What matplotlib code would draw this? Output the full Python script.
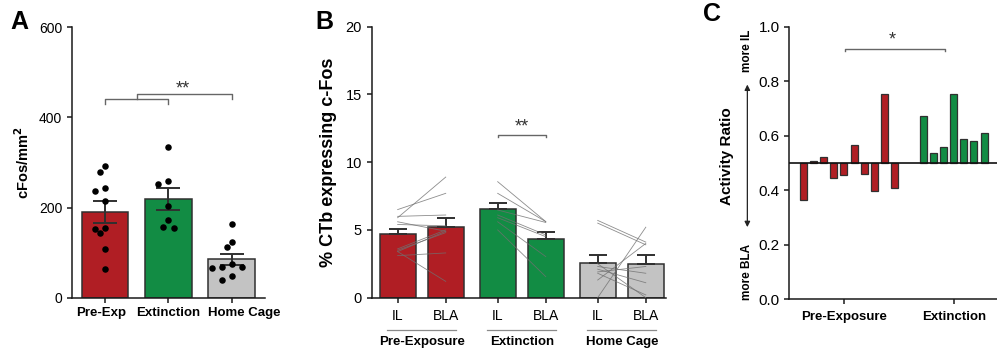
import numpy as np
import matplotlib.pyplot as plt

plt.rcParams['font.family'] = ['Liberation Sans', 'DejaVu Sans']

RED = '#b01e24'
GREEN = '#128c44'
GRAY = '#c3c3c3'
EDGE = '#303030'

# --- Panel A: cFos density ---
a_groups = ['Pre-Exp', 'Extinction', 'Home Cage']
a_means = [190, 219, 86]
a_sem = [24, 25, 12]
a_pre = [292, 280, 244, 237, 215, 155, 153, 143, 109, 64]
a_ext = [334, 259, 252, 204, 172, 157, 156]
a_home = [163, 125, 113, 76, 69, 69, 66, 48, 39]

# --- Panel B: % CTb expressing c-Fos ---
b_groups = ['Pre-Exposure', 'Extinction', 'Home Cage']
b_il_mean = [4.67, 6.52, 2.56]
b_bla_mean = [5.21, 4.30, 2.51]
b_il_sem = [0.42, 0.47, 0.61]
b_bla_sem = [0.64, 0.57, 0.64]
b_pre_il = [6.5, 5.9, 6.0, 5.4, 5.6, 3.6, 3.5, 3.4, 3.4, 3.1]
b_pre_bla = [7.7, 8.9, 6.1, 5.3, 4.9, 5.0, 4.8, 1.2, 4.9, 3.3]
b_ext_il = [8.56, 7.70, 6.47, 6.1, 5.9, 5.6, 5.0]
b_ext_bla = [5.61, 5.61, 5.55, 4.63, 4.5, 3.03, 1.55]
b_home_il = [5.7, 5.5, 0.0, 2.5, 2.3, 2.1, 1.8, 1.3, 1.9]
b_home_bla = [4.1, 3.9, 5.2, 0.0, 1.8, 1.1, 0.2, 4.0, 2.3]

# --- Panel C: activity ratio ---
c_pre = [0.365, 0.508, 0.521, 0.443, 0.457, 0.567, 0.458, 0.395, 0.753, 0.407]
c_ext = [0.671, 0.538, 0.557, 0.754, 0.587, 0.579, 0.610]


def style_axis(ax):
    for s in ['top', 'right']:
        ax.spines[s].set_visible(False)
    for s in ['left', 'bottom']:
        ax.spines[s].set_linewidth(1.1)
        ax.spines[s].set_color('#1a1a1a')
    ax.tick_params(direction='out', length=3.5, width=1.1, color='#1a1a1a')


def swarm(vals, ax, diam):
    # simple beeswarm: x offsets (data units) so dots of diam px don't overlap
    p0 = ax.transData.transform((0, 0))
    p1 = ax.transData.transform((1, 1))
    sx, sy = p1[0] - p0[0], p1[1] - p0[1]
    ys = np.asarray(vals, float) * sy
    cands = [0.0]
    for k in range(1, 8):
        cands += [-k * diam * 0.75, k * diam * 0.75]
    placed = []
    offs = np.zeros(len(ys))
    for i in np.argsort(ys)[::-1]:
        for c in cands:
            if all((c - px) ** 2 + (ys[i] - py) ** 2 >= diam ** 2 for px, py in placed):
                break
        placed.append((c, ys[i]))
        offs[i] = c / sx
    return offs


fig = plt.figure(figsize=(9.97, 3.51), dpi=100)

# ---------------- A ----------------
axA = fig.add_axes([0.0722, 0.151, 0.1936, 0.772])
style_axis(axA)
xa = np.arange(len(a_groups))
axA.set_xlim(-0.52, 2.52)
axA.set_ylim(0, 600)
axA.bar(xa, a_means, width=0.74, color=[RED, GREEN, GRAY], edgecolor=EDGE, linewidth=1.1, zorder=2)
axA.errorbar(xa, a_means, yerr=a_sem, fmt='none', ecolor=EDGE, elinewidth=1.4,
             capsize=8.5, capthick=1.4, zorder=3)
for i, pts in enumerate([a_pre, a_ext, a_home]):
    axA.scatter(i + swarm(pts, axA, 6.8), pts, s=22, color='black', zorder=4, linewidths=0)
axA.set_yticks([0, 200, 400, 600])
axA.set_xticks(xa)
axA.set_xticklabels([])
# labels nudged like the original (points)
for i, (name, dx) in enumerate(zip(a_groups, [-3, 0, 8.5])):
    axA.annotate(name, xy=(i, 0), xycoords=axA.get_xaxis_transform(), xytext=(dx, -6.5),
                 textcoords='offset points', ha='center', va='top', fontsize=9.5, fontweight='bold')
axA.tick_params(axis='y', labelsize=10)
axA.set_ylabel('cFos/mm$^\\mathbf{2}$', fontweight='bold', fontsize=10.5, labelpad=5)
axA.plot([0, 0, 1, 1], [430, 441, 441, 430], color='#666666', lw=1, zorder=1)
axA.plot([0.5, 0.5, 2, 2], [441, 452, 452, 440], color='#666666', lw=1, zorder=1)
axA.text(1.23, 462, '**', ha='center', va='center', fontsize=13, color='#333333')

# ---------------- B ----------------
axB = fig.add_axes([0.3728, 0.152, 0.2952, 0.772])
style_axis(axB)
gap = 2.08
colorsB = [RED, GREEN, GRAY]
pairs = [(b_pre_il, b_pre_bla), (b_ext_il, b_ext_bla), (b_home_il, b_home_bla)]
xticks = []
for g in range(3):
    x0 = g * gap
    xticks += [x0, x0 + 1]
    axB.bar([x0, x0 + 1], [b_il_mean[g], b_bla_mean[g]], width=0.75, color=colorsB[g],
            edgecolor=EDGE, linewidth=1.1, zorder=2)
    axB.errorbar([x0, x0 + 1], [b_il_mean[g], b_bla_mean[g]],
                 yerr=[[0, 0], [b_il_sem[g], b_bla_sem[g]]], fmt='none', ecolor=EDGE,
                 elinewidth=1.4, capsize=6.8, capthick=1.4, zorder=3)
    for il, bla in zip(*pairs[g]):
        axB.plot([x0, x0 + 1], [il, bla], color='#707070', lw=0.6, alpha=0.8, zorder=4)
    xc = x0 + 0.5
    axB.plot([xc - 0.72, xc + 0.72], [-0.119, -0.119], color='#8a8a8a', lw=0.9,
             transform=axB.get_xaxis_transform(), clip_on=False)
    axB.text(xc, -0.165, b_groups[g], ha='center', va='center', fontsize=9.5, fontweight='bold',
             transform=axB.get_xaxis_transform())
axB.set_xlim(-0.54, 5.58)
axB.set_ylim(0, 20)
axB.set_yticks([0, 5, 10, 15, 20])
axB.set_xticks(xticks)
axB.set_xticklabels(['IL', 'BLA'] * 3, fontsize=10)
axB.tick_params(axis='y', labelsize=10.5)
axB.tick_params(axis='x', pad=5)
axB.set_ylabel('% CTb expressing c-Fos', fontweight='bold', fontsize=13, labelpad=6)
axB.plot([gap, gap, gap + 1, gap + 1], [11.86, 12.03, 12.03, 11.86], color='#666666', lw=1)
axB.text(gap + 0.5, 12.6, '**', ha='center', va='center', fontsize=13, color='#333333')

# ---------------- C ----------------
axC = fig.add_axes([0.7917, 0.148, 0.2083, 0.776])
style_axis(axC)
xs_pre = np.arange(len(c_pre))
xs_ext = len(c_pre) - 1 + 2.83 + np.arange(len(c_ext))
axC.bar(xs_pre, np.array(c_pre) - 0.5, bottom=0.5, width=0.69, color=RED, edgecolor=EDGE,
        linewidth=0.9, zorder=2)
axC.bar(xs_ext, np.array(c_ext) - 0.5, bottom=0.5, width=0.69, color=GREEN, edgecolor=EDGE,
        linewidth=0.9, zorder=2)
axC.axhline(0.5, color='#111111', lw=1.2, zorder=3)
axC.set_xlim(-1.38, 19.1)
axC.set_ylim(0, 1.0)
axC.set_yticks(np.arange(0, 1.01, 0.2))
axC.set_yticklabels([f'{v:.1f}' for v in np.arange(0, 1.01, 0.2)], fontsize=11)
axC.set_xticks([4.04, xs_ext.mean()])
axC.set_xticklabels(['Pre-Exposure', 'Extinction'], fontweight='bold', fontsize=9.5)
axC.tick_params(axis='x', pad=5)
axC.plot([4.07, 4.07, 13.97, 13.97], [0.91, 0.919, 0.919, 0.91], color='#666666', lw=1)
axC.text(8.76, 0.95, '*', ha='center', va='center', fontsize=13, color='#333333')

fig.text(0.729, 0.556, 'Activity Ratio', rotation=90, ha='center', va='center',
         fontsize=11, fontweight='bold')
axC.annotate('', xy=(0.7496, 0.767), xytext=(0.7496, 0.345), xycoords='figure fraction',
             textcoords='figure fraction', annotation_clip=False,
             arrowprops=dict(arrowstyle='<|-|>', color='#222222', lw=0.9, mutation_scale=8))
fig.text(0.7496, 0.855, 'more IL', rotation=90, ha='center', va='center', fontsize=8.5, fontweight='bold')
fig.text(0.7496, 0.225, 'more BLA', rotation=90, ha='center', va='center', fontsize=8.5, fontweight='bold')

# panel letters
fig.text(19 / 997, 1 - 22 / 351, 'A', fontsize=18, fontweight='bold', ha='center', va='center')
fig.text(324 / 997, 1 - 22 / 351, 'B', fontsize=18, fontweight='bold', ha='center', va='center')
fig.text(712 / 997, 1 - 14 / 351, 'C', fontsize=18, fontweight='bold', ha='center', va='center')

fig.savefig('out.png', dpi=100)
